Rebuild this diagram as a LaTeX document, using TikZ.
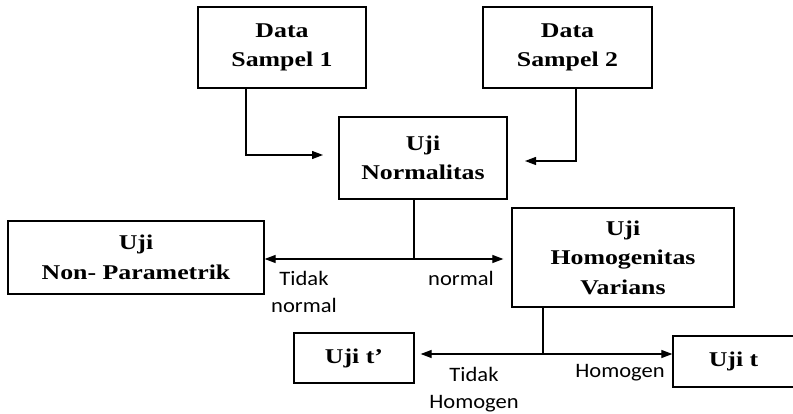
\documentclass[tikz,border=0pt]{standalone}
\usepackage{fontspec}
\newfontfamily\boxfont[FakeStretch=1.23]{Liberation Serif}
\newfontfamily\labfont[FakeStretch=1.1]{Carlito}
\usetikzlibrary{arrows.meta}
\begin{document}
\begin{tikzpicture}[x=1pt, y=-1pt,
  box/.style={draw, line width=1.3pt, align=center, inner sep=0pt,
    font=\boxfont\bfseries\fontsize{21}{29.5}\selectfont},
  lab/.style={align=center, inner sep=0pt,
    font=\labfont\fontsize{20.5}{27}\selectfont},
  line/.style={line width=1.2pt},
  link/.style={line width=1.2pt, -{Triangle[length=11pt,width=8pt]}}]
\useasboundingbox (0,0) rectangle (793,414);

% process boxes
\node[box, minimum width=168pt, minimum height=81pt] (s1) at (282,47.5) {Data\\Sampel 1};
\node[box, minimum width=169pt, minimum height=81pt] (s2) at (567.5,47.5) {Data\\Sampel 2};
\node[box, minimum width=168pt, minimum height=82pt] (norm) at (423,158) {Uji\\Normalitas};
\node[box, minimum width=256pt, minimum height=73pt] (np) at (136,257.5) {Uji\\Non- Parametrik};
\node[box, minimum width=222pt, minimum height=99pt] (hom) at (623,257.5) {Uji\\Homogenitas\\Varians};
\node[box, minimum width=120pt, minimum height=50pt] (tp) at (354,358) {Uji t’};
\node[box, minimum width=121pt, minimum height=51pt] (tt) at (733.5,361.5) {Uji t};

% samples into the normality test
\coordinate (a1) at (323,155);
\coordinate (a2) at (525,161);
\draw[link] ([xshift=-36pt]s1.south) |- (a1);
\draw[link] ([xshift=8.5pt]s2.south) |- (a2);

% normality branch
\coordinate (j1) at (414,259);
\draw[line] (norm.south -| j1) -- (j1);
\draw[link] (j1) -- (j1 -| np.east);
\draw[link, shorten >=8pt] (j1) -- (j1 -| hom.west);

% homogeneity branch
\coordinate (j2) at (543,354);
\draw[line] (hom.south -| j2) -- (j2);
\draw[link, shorten >=6pt] (j2) -- (j2 -| tp.east);
\draw[link] (j2) -- (j2 -| tt.west);

% branch labels
\node[lab, anchor=north] (l1) at (304,271) {Tidak\\normal};
\node[lab, anchor=base] (l2) at (461,286) {normal};
\node[lab, anchor=north] (l3) at (474,367) {Tidak\\Homogen};
\node[lab, anchor=base] (l4) at (620,377) {Homogen};
\end{tikzpicture}
\end{document}
